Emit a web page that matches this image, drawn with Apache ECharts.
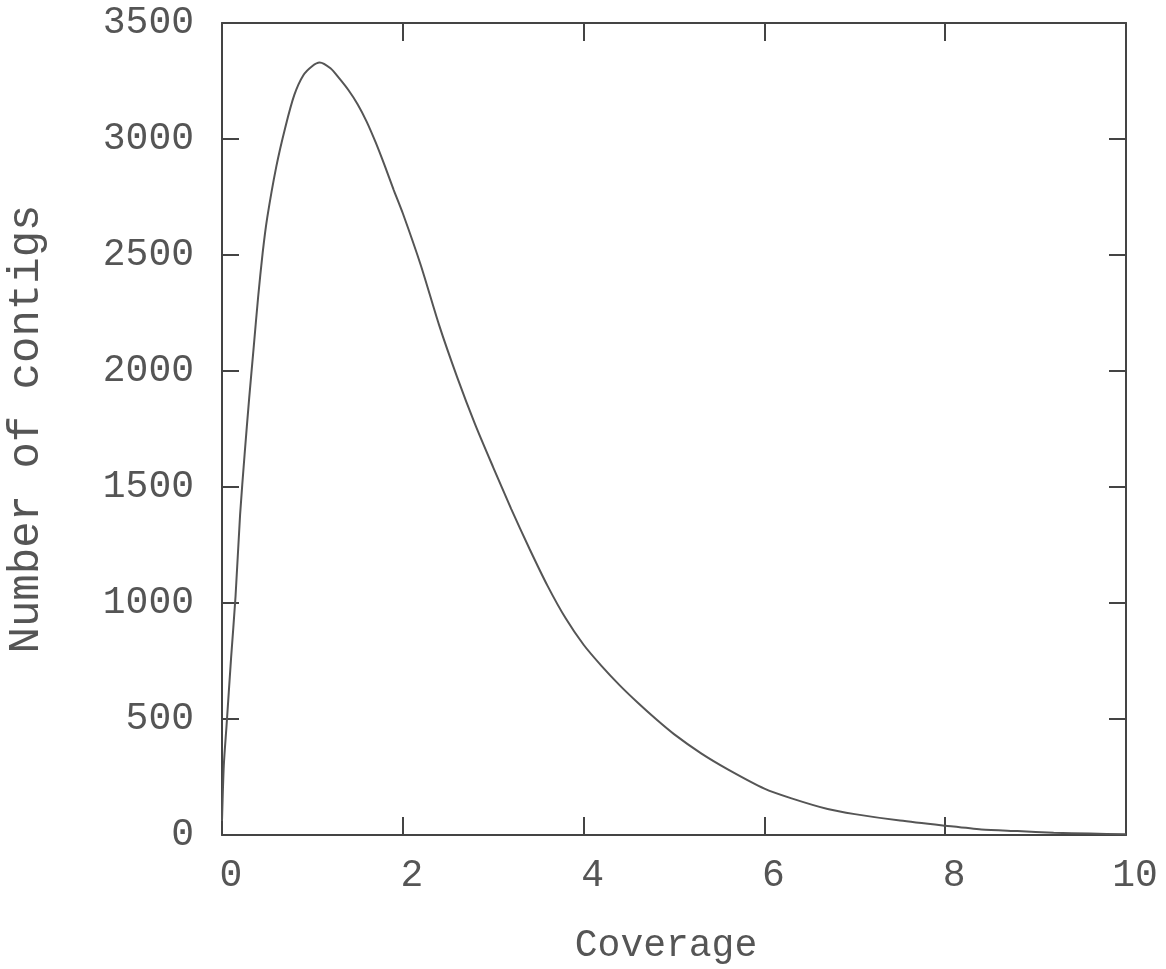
<!DOCTYPE html>
<html>
<head>
<meta charset="utf-8">
<script src="https://cdn.jsdelivr.net/npm/echarts@6/dist/echarts.min.js"></script>
<style>
  html, body { margin: 0; padding: 0; background: #fff; }
  #chart { width: 1166px; height: 969px; }
</style>
</head>
<body>
<div id="chart"></div>
<script>
// coverage values
const coverage = [0, 0.02, 0.05, 0.1, 0.15, 0.2, 0.25, 0.3, 0.35, 0.4, 0.45, 0.5, 0.6, 0.7, 0.8, 0.9, 1.0, 1.08,
  1.2, 1.3, 1.4, 1.5, 1.6, 1.7, 1.8, 1.9, 2.0, 2.2, 2.4, 2.6, 2.8, 3.0, 3.2, 3.4, 3.6, 3.8, 4.0, 4.2, 4.4,
  4.6, 4.8, 5.0, 5.3, 5.6, 6.0, 6.3, 6.7, 7.0, 7.5, 8.0, 8.4, 8.8, 9.2, 9.6, 10.0];
const contigs = [60, 300, 470, 760, 1030, 1380, 1640, 1880, 2100, 2320, 2510, 2660, 2880, 3050, 3190, 3275, 3315, 3330,
  3305, 3260, 3210, 3150, 3075, 2985, 2885, 2780, 2680, 2455, 2200, 1975, 1770, 1585, 1405, 1235, 1075, 935, 820, 728, 645,
  570, 500, 435, 352, 282, 200, 158, 112, 90, 62, 40, 24, 17, 10, 6, 3];

const xTicks = [0, 2, 4, 6, 8, 10];
const yTicks = [0, 500, 1000, 1500, 2000, 2500, 3000, 3500];

const font = 'Liberation Mono';
const axisCol = '#444';
const textCol = '#555';

// 좌표쌍으로 묶기
const points = coverage.map((c, i) => [c, contigs[i]]);

const chart = echarts.init(document.getElementById('chart'));

const xBase = {
  type: 'value',
  min: xTicks[0],
  max: xTicks[xTicks.length - 1],
  interval: 2,
  splitLine: { show: false },
  axisLine: { show: true, onZero: false, lineStyle: { color: axisCol, width: 2 } },
  axisTick: { show: true, inside: true, length: 18, lineStyle: { color: axisCol, width: 2 } }
};
const yBase = {
  type: 'value',
  min: yTicks[0],
  max: yTicks[yTicks.length - 1],
  interval: 500,
  splitLine: { show: false },
  axisLine: { show: true, onZero: false, lineStyle: { color: axisCol, width: 2 } },
  axisTick: { show: true, inside: true, length: 17, lineStyle: { color: axisCol, width: 2 } }
};

chart.setOption({
  animation: false,
  backgroundColor: '#fff',
  grid: { left: 222, right: 40, top: 23, bottom: 134, containLabel: false, outerBoundsMode: 'none' },
  xAxis: [
    Object.assign({}, xBase, {
      position: 'bottom',
      name: 'Coverage',
      nameLocation: 'middle',
      nameGap: 92,
      nameTextStyle: { fontFamily: font, fontSize: 38, color: textCol, padding: [0, 16, 0, 0] },
      axisLabel: { margin: 22, fontFamily: font, fontSize: 38, color: textCol, padding: [0, 0, 0, 18] }
    }),
    Object.assign({}, xBase, { position: 'top', axisLabel: { show: false } })
  ],
  yAxis: [
    Object.assign({}, yBase, {
      position: 'left',
      name: 'Number of contigs',
      nameLocation: 'middle',
      nameGap: 174,
      nameTextStyle: { fontFamily: font, fontSize: 44, color: textCol },
      axisLabel: { margin: 28, fontFamily: font, fontSize: 38, color: textCol, formatter: v => String(v) }
    }),
    Object.assign({}, yBase, { position: 'right', axisLabel: { show: false } })
  ],
  series: [{
    type: 'line',
    data: points,
    showSymbol: false,
    smooth: 0.25,
    lineStyle: { color: '#555', width: 2 }
  }]
});
</script>
</body>
</html>
